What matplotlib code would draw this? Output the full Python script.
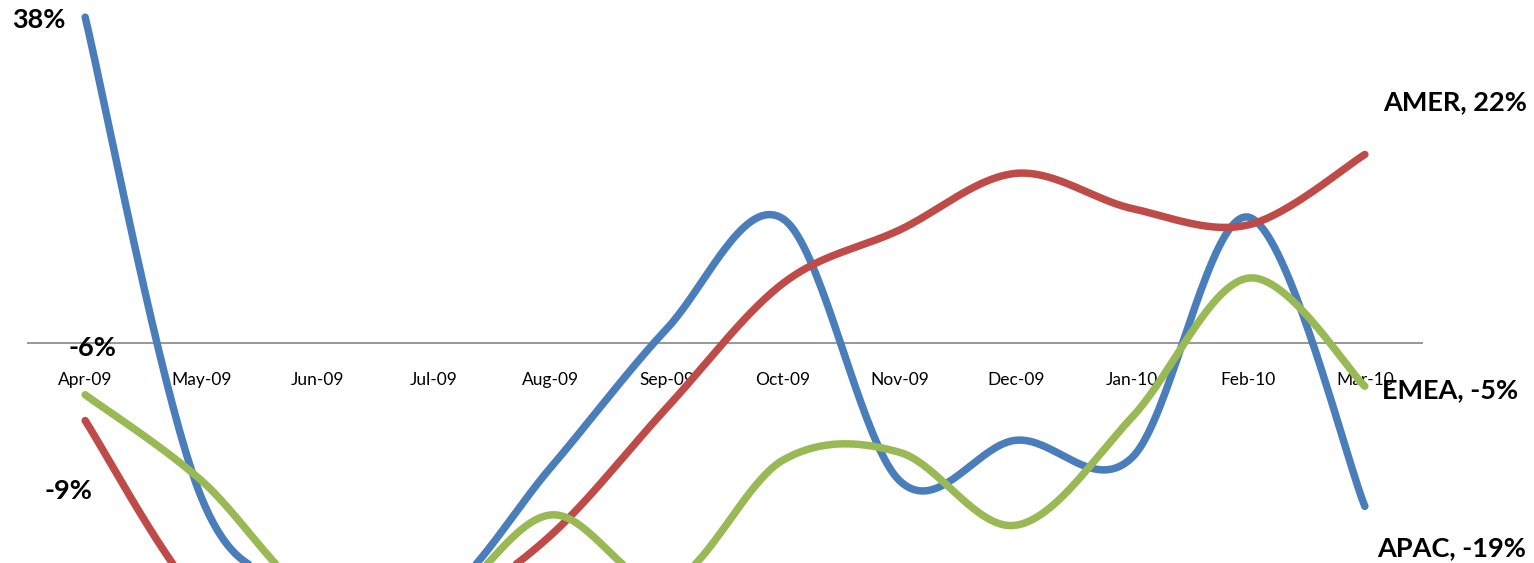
import numpy as np
import matplotlib
matplotlib.use("Agg")
import matplotlib.pyplot as plt

months = ["Apr-09", "May-09", "Jun-09", "Jul-09", "Aug-09", "Sep-09",
          "Oct-09", "Nov-09", "Dec-09", "Jan-10", "Feb-10", "Mar-10"]

# month-over-month growth, percent
apac = [38, -18, -28, -30, -14.5, 1.7, 14.5, -16, -11.3, -13.3, 14.7, -19]
amer = [-9, -30, -38, -32, -22.4, -7.5, 7, 13.2, 19.8, 15.7, 13.8, 22]
emea = [-6, -16, -30, -31, -20, -28, -13.6, -12.7, -21.2, -8.6, 7.6, -5]

BLUE = "#4A7EBB"
RED = "#BE4B48"
GREEN = "#98B954"

plt.rcParams["font.family"] = ["Lato", "DejaVu Sans"]


def smooth(xs, ys, steps=40):
    # catmull-rom through every point, like the "smoothed line" option in excel
    p = np.column_stack([xs, ys]).astype(float)
    p = np.vstack([p[0], p, p[-1]])
    out = []
    for i in range(1, len(p) - 2):
        p0, p1, p2, p3 = p[i - 1], p[i], p[i + 1], p[i + 2]
        t = np.linspace(0, 1, steps)[:, None]
        seg = 0.5 * ((2 * p1) + (-p0 + p2) * t
                     + (2 * p0 - 5 * p1 + 4 * p2 - p3) * t ** 2
                     + (-p0 + 3 * p1 - 3 * p2 + p3) * t ** 3)
        out.append(seg if i == 1 else seg[1:])
    out = np.vstack(out)
    return out[:, 0], out[:, 1]


fig = plt.figure(figsize=(15.34, 5.63), dpi=100)
ax = fig.add_axes([27 / 1534, 0, 1396 / 1534, 1])

x = np.arange(len(months))
ax.axhline(0, color="#868686", lw=1.2, zorder=1)

for vals, col in [(apac, BLUE), (amer, RED), (emea, GREEN)]:
    sx, sy = smooth(x, vals)
    ax.plot(sx, sy, color=col, lw=5.4, solid_capstyle="round", zorder=3)

for i, m in enumerate(months):
    ax.annotate(m, (i, 0), xytext=(0, -37), textcoords="offset pixels",
                ha="center", va="center", fontsize=12.5, color="black", zorder=2)

bold = dict(textcoords="offset pixels", ha="center", va="center",
            fontsize=19.5, fontweight="bold", color="black", zorder=4)
ax.annotate(f"{apac[0]:.0f}%", (0, apac[0]), xytext=(-46, -3), **bold)
ax.annotate(f"{emea[0]:.0f}%", (0, emea[0]), xytext=(7, 47), **bold)
ax.annotate(f"{amer[0]:.0f}%", (0, amer[0]), xytext=(-17, -70), **bold)
ax.annotate(f"AMER, {amer[-1]:.0f}%", (11, amer[-1]), xytext=(90, 52), **bold)
ax.annotate(f"EMEA, {emea[-1]:.0f}%", (11, emea[-1]), xytext=(85, -4), **bold)
ax.annotate(f"APAC, {apac[-1]:.0f}%", (11, apac[-1]), xytext=(87, -42), **bold)

ax.set_xlim(-0.5, 11.5)
ax.set_ylim(-25.6, 40)
ax.axis("off")

fig.savefig("out.png", dpi=100)
